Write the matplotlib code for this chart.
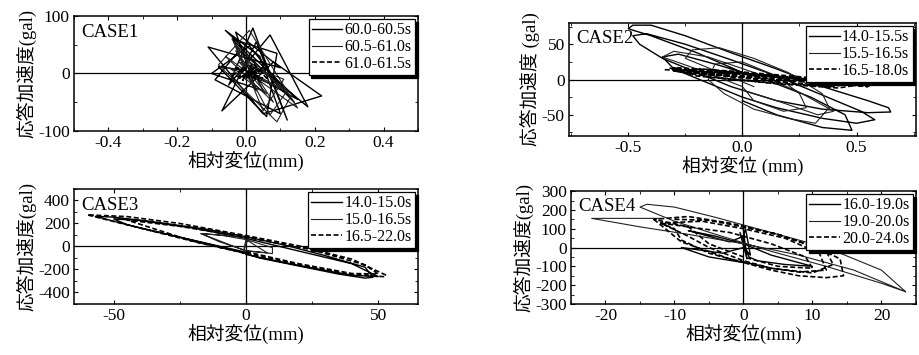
import matplotlib
matplotlib.use("Agg")
import matplotlib.pyplot as plt
from matplotlib.ticker import AutoMinorLocator

plt.rcParams['font.family'] = ['Liberation Serif', 'Noto Sans CJK JP']
plt.rcParams['axes.unicode_minus'] = False

# ---------------------------------------------------------------- #
#                  hysteresis traces (disp mm, acc gal)            #
# ---------------------------------------------------------------- #

# CASE1
case1_labels = ['60.0-60.5s', '60.5-61.0s', '61.0-61.5s']
case1_a_x = [0.00, 0.03, -0.03, 0.10, -0.11, 0.05, 0.22, 0.08, -0.07, 0.03, 0.12,
             0.02, -0.05, 0.07, 0.18, -0.02, -0.09, 0.10, 0.04, -0.06, 0.15, 0.00,
             -0.08, 0.06, 0.09, -0.04, 0.14, 0.01, -0.10, 0.05, 0.02]
case1_a_y = [0, -30, 72, 10, 46, -70, -39, 20, -65, 55, -81, 79, -20, 67, -58, 40,
             -11, -70, 30, 75, -45, 5, 12, -75, 35, 60, -50, 48, 0, -30, 5]
case1_b_x = [0.00, -0.04, 0.08, -0.06, 0.15, 0.01, -0.08, 0.09, 0.13, -0.03, 0.05,
             0.11, -0.02, 0.06, -0.05, 0.10, 0.02, -0.03, 0.07, 0.12, 0.00, 0.04]
case1_b_y = [5, 60, -50, 30, -60, 75, 15, -84, -40, 50, -65, -10, 20, -35, 10, -25,
             0, 40, -72, -30, 25, 0]
case1_c_x = [0.00, 0.03, -0.02, 0.05, -0.03, 0.04, 0.01, -0.04, 0.06, 0.02, -0.01,
             0.03, -0.02, 0.04, 0.00, 0.05, -0.01, 0.02]
case1_c_y = [0, 12, -8, 6, 10, -14, 15, -4, -8, 18, -12, 2, 8, -6, 0, 10, -5, 3]

# CASE2
case2_labels = ['14.0-15.5s', '15.5-16.5s', '16.5-18.0s']
case2_a_x = [0.00, -0.20, -0.40, -0.50, -0.48, -0.40, -0.25, -0.05, 0.15, 0.35, 0.55,
             0.64, 0.65, 0.55, 0.35, 0.15, -0.05, -0.20, -0.35, -0.45, -0.48, -0.42,
             -0.25, -0.05, 0.15, 0.35, 0.52, 0.58, 0.50, 0.35, 0.15, 0.00, -0.15,
             -0.30, -0.35, -0.28, -0.10, 0.10, 0.30, 0.45, 0.48, 0.35, 0.15, 0.00]
case2_a_y = [10, 38, 62, 72, 77, 77, 62, 38, 15, -10, -30, -40, -46, -47, -42, -30,
             -10, 10, 30, 50, 62, 65, 50, 28, 5, -22, -45, -57, -62, -55, -40, -25,
             -5, 15, 32, 36, 20, 0, -25, -50, -72, -68, -50, -30]
case2_b_x = [0.05, -0.10, -0.25, -0.22, -0.10, 0.05, 0.20, 0.35, 0.38, 0.32, 0.20,
             0.05, -0.08, -0.15, -0.12, 0.00, 0.15, 0.25, 0.28, 0.18, 0.05, 0.00,
             -0.20, -0.35, -0.30, -0.15, 0.05, 0.25, 0.40, 0.33, 0.15, 0.00]
case2_b_y = [-10, 10, 30, 42, 45, 30, 10, -20, -40, -62, -55, -42, -20, 0, 22, 25,
             5, -20, -40, -45, -30, -10, 15, 32, 40, 32, 10, -18, -45, -50, -30, -15]
case2_c_x = [-0.34, -0.10, 0.20, 0.54, 0.30, 0.00, -0.25, -0.30, -0.05, 0.25, 0.50,
             0.40, 0.10, -0.20, -0.28, 0.00, 0.30, 0.55, 0.35, 0.05, -0.22, -0.32,
             -0.08, 0.22, 0.48, 0.38, 0.12, -0.15, -0.26, 0.02, 0.32, 0.52, 0.42,
             0.15, -0.12, -0.30, -0.18, 0.10, 0.40, 0.56]
case2_c_y = [14, 8, 2, -8, -3, 4, 10, 17, 12, 4, -4, -10, -4, 5, 12, 9, 0, -10, -5,
             2, 10, 16, 11, 3, -6, -9, -2, 7, 13, 7, -2, -7, -12, -6, 3, 12, 15, 6,
             -3, -9]

# CASE3
case3_labels = ['14.0-15.0s', '15.0-16.5s', '16.5-22.0s']
case3_a_x = [0, -20, -40, -57, -50, -35, -15, 0, 15, 30, 45, 48, 45, 35, 20, 5, 0,
             -25, -45, -50, -40, -20, 0, 20, 40, 50, 40, 20, 0]
case3_a_y = [-50, 55, 160, 262, 255, 215, 150, 85, 10, -80, -180, -268, -275, -240,
             -170, -100, -60, 80, 190, 240, 225, 160, 70, -40, -150, -262, -250,
             -165, -70]
case3_b_x = [0, -17, -10, 0, 10, 10, 0, -10, -17, -8, 1, -1, 0, 8, 0]
case3_b_y = [-40, 112, 100, 60, -10, -62, -35, 40, 112, 95, 80, -50, 60, -55, -40]
case3_c_x = [0, -20, -40, -60, -45, -25, 0, 20, 40, 53, 52, 40, 20, 0, -20, -45,
             -25, 0, 25, 45, 50, 40, 20, 0]
case3_c_y = [-60, 45, 160, 275, 260, 200, 95, 5, -110, -250, -262, -245, -160, -60,
             45, 230, 175, 80, -30, -160, -240, -235, -150, -45]

# CASE4
case4_labels = ['16.0-19.0s', '19.0-20.0s', '20.0-24.0s']
case4_a_x = [0.0, 0.5, -0.5, 0.8, 2.0, 6.0, 10.0, 8.0, 4.0, 0.0, -4.0, -8.0, -6.0,
             -2.0, 0.0, 0.3, 1.0, 0.0, -3.0, -9.0, -5.0, 0.0]
case4_a_y = [90, -60, 80, -50, -70, -90, -100, -80, -40, 20, 60, 90, 70, 30, 60, 100,
             -40, 0, -30, 0, -50, -80]
case4_b_x = [-12.0, -22.0, -15.0, -8.0, 0.0, 8.0, 16.0, 23.5, 20.0, 12.0, 4.0, -4.0,
             -10.0, -15.0, -14.0, -10.0, -4.0, 4.0, 12.0, 20.0, 23.5]
case4_b_y = [155, 155, 110, 70, 20, -40, -120, -235, -190, -100, -20, 70, 140, 215,
             230, 215, 160, 80, 0, -120, -235]
case4_c_x = [-10, -5, 0, 5, 10, 14, 14.5, 12, 8, 4, 0, -5, -9, -10, -12, -6, 0, 6,
             11, 12, 8, 4, 0, -5, -8, -12, -8, -2, 4, 9, 10, 5, 0, -5, -8, -13, -8,
             -2, 5, 12, 13, 10, 4, -2, -9, -13]
case4_c_y = [150, 145, 110, 70, 10, -60, -150, -160, -150, -120, -80, -30, 40, 100,
             130, 140, 100, 50, -30, -120, -130, -110, -70, 0, 60, 130, 110, 80, 20,
             -50, -110, -100, -50, 20, 110, 150, 165, 130, 70, -20, -90, -135, -110,
             -60, 30, 150]

panels = [
    dict(pos=[0.0805, 0.631, 0.3743, 0.324], name='CASE1',
         xs=[case1_a_x, case1_b_x, case1_c_x], ys=[case1_a_y, case1_b_y, case1_c_y],
         labels=case1_labels, xlim=(-0.5, 0.5), ylim=(-100, 100),
         xticks=[-0.4, -0.2, 0, 0.2, 0.4], yticks=[-100, 0, 100],
         xlabel='相対変位(mm)', ylabel='応答加速度(gal)'),
    dict(pos=[0.619, 0.617, 0.3776, 0.318], name='CASE2',
         xs=[case2_a_x, case2_b_x, case2_c_x], ys=[case2_a_y, case2_b_y, case2_c_y],
         labels=case2_labels, xlim=(-0.76, 0.76), ylim=(-80, 80),
         xticks=[-0.5, 0, 0.5], yticks=[-50, 0, 50],
         xlabel='相対変位 (mm)', ylabel='応答加速度 (gal)'),
    dict(pos=[0.0805, 0.1437, 0.3743, 0.324], name='CASE3',
         xs=[case3_a_x, case3_b_x, case3_c_x], ys=[case3_a_y, case3_b_y, case3_c_y],
         labels=case3_labels, xlim=(-65, 65), ylim=(-500, 500),
         xticks=[-50, 0, 50], yticks=[-400, -200, 0, 200, 400],
         xlabel='相対変位(mm)', ylabel='応答加速度(gal)'),
    dict(pos=[0.6213, 0.1437, 0.3754, 0.318], name='CASE4',
         xs=[case4_a_x, case4_b_x, case4_c_x], ys=[case4_a_y, case4_b_y, case4_c_y],
         labels=case4_labels, xlim=(-25, 25), ylim=(-300, 300),
         xticks=[-20, -10, 0, 10, 20], yticks=[-300, -200, -100, 0, 100, 200, 300],
         xlabel='相対変位(mm)', ylabel='応答加速度(gal)'),
]

styles = [
    dict(color='black', lw=1.0, ls='-'),
    dict(color='#222222', lw=0.8, ls='-'),
    dict(color='black', lw=1.2, ls=(0, (3, 1.5))),
]

fig = plt.figure(figsize=(9.19, 3.55), dpi=100)

for p in panels:
    ax = fig.add_axes(p['pos'])
    for x, y, lab, st in zip(p['xs'], p['ys'], p['labels'], styles):
        ax.plot(x, y, label=lab, **st)
    ax.axhline(0, color='black', lw=0.9, zorder=0)
    ax.axvline(0, color='black', lw=0.9, zorder=0)
    ax.set_xlim(*p['xlim'])
    ax.set_ylim(*p['ylim'])
    ax.set_xticks(p['xticks'])
    ax.set_yticks(p['yticks'])
    ax.xaxis.set_minor_locator(AutoMinorLocator(2))
    ax.yaxis.set_minor_locator(AutoMinorLocator(2))
    ax.tick_params(which='both', direction='in', top=True, right=True,
                   labelsize=12.5, pad=3)
    ax.tick_params(which='major', length=3)
    ax.tick_params(which='minor', length=2)
    for sp in ax.spines.values():
        sp.set_linewidth(1.1)
    ax.set_xlabel(p['xlabel'], fontsize=13.5, labelpad=0)
    ax.set_ylabel(p['ylabel'], fontsize=13.5, labelpad=1)
    ax.text(0.02, 0.86, p['name'], transform=ax.transAxes, fontsize=13.5,
            va='center', ha='left')
    leg = ax.legend(loc='upper right', fontsize=11.5, frameon=True, fancybox=False,
                    edgecolor='black', framealpha=1, handlelength=1.9,
                    handletextpad=0.15, labelspacing=0.05, borderpad=0.2,
                    borderaxespad=0.2, shadow={'color': 'black', 'alpha': 1})
    leg.get_frame().set_linewidth(0.9)

fig.savefig('out.png', dpi=100)
